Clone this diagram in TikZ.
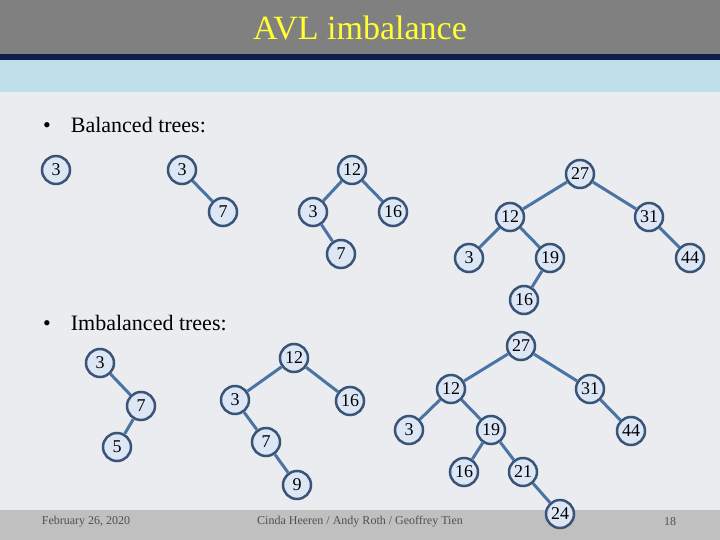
\documentclass[tikz,border=0pt]{standalone}
\usepackage{fontspec}
\setmainfont{Liberation Serif}
\definecolor{headgray}{HTML}{808080}
\definecolor{navyline}{HTML}{0E1F4D}
\definecolor{bandblue}{HTML}{BFE0EA}
\definecolor{bodygray}{HTML}{EAECF0}
\definecolor{footgray}{HTML}{C0C0C0}
\definecolor{nodefill}{HTML}{DCE6F4}
\definecolor{nodeline}{HTML}{3A5478}
\definecolor{edgeblue}{HTML}{4A74A4}
\definecolor{foottext}{HTML}{505050}
\definecolor{titleyellow}{HTML}{FFFF33}
\begin{document}
\begin{tikzpicture}[
    x=1pt, y=-1pt,
    avl/.style={circle, draw=nodeline, fill=nodefill, line width=2.5pt, minimum size=28pt, inner sep=0pt, font=\fontsize{18}{20}\selectfont},
    link/.style={draw=edgeblue, line width=3pt},
    bullet/.style={anchor=west, inner sep=0pt, font=\fontsize{22}{26}\selectfont},
    foot/.style={text=foottext, font=\fontsize{12}{14}\selectfont}
]
\useasboundingbox (0,0) rectangle (720,540);

% Slide background
\fill[bodygray] (0,0) rectangle (720,540);
\fill[headgray] (0,0) rectangle (720,54);
\fill[navyline] (0,54) rectangle (720,60);
\fill[bandblue] (0,60) rectangle (720,92);
\fill[footgray] (0,510) rectangle (720,540);

% Title
\node[text=titleyellow, font=\fontsize{34}{38}\selectfont] (title) at (360,28) {AVL imbalance};

% Bullets
\node[bullet] (bal) at (43,125) {\textbullet\hspace{20pt}Balanced trees:};
\node[bullet] (imb) at (43,323) {\textbullet\hspace{20pt}Imbalanced trees:};

% Footer
\node[foot] (date) at (86,522) {February 26, 2020};
\node[foot] (authors) at (360,522) {Cinda Heeren / Andy Roth / Geoffrey Tien};
\node[foot] (page) at (670,522) {18};

% Balanced trees
\node[avl] (a3) at (56,170) {3};

\node[avl] (b3) at (182,170) {3};
\node[avl] (b7) at (223,212) {7};

\node[avl] (c12) at (352,170) {12};
\node[avl] (c3) at (313,212) {3};
\node[avl] (c16) at (393,212) {16};
\node[avl] (c7) at (341,254) {7};

\node[avl] (d27) at (580,174) {27};
\node[avl] (d12) at (510,217) {12};
\node[avl] (d31) at (649,217) {31};
\node[avl] (d3) at (469,258) {3};
\node[avl] (d19) at (550,258) {19};
\node[avl] (d44) at (690,258) {44};
\node[avl] (d16) at (524,300) {16};

\draw[link] (b3) -- (b7);
\draw[link] (c12) -- (c3);
\draw[link] (c12) -- (c16);
\draw[link] (c3) -- (c7);
\draw[link] (d27) -- (d12);
\draw[link] (d27) -- (d31);
\draw[link] (d12) -- (d3);
\draw[link] (d12) -- (d19);
\draw[link] (d31) -- (d44);
\draw[link] (d19) -- (d16);

% Imbalanced trees
\node[avl] (e3) at (100,363) {3};
\node[avl] (e7) at (141,406) {7};
\node[avl] (e5) at (117,447) {5};

\node[avl] (f12) at (294,358) {12};
\node[avl] (f3) at (235,400) {3};
\node[avl] (f16) at (350,401) {16};
\node[avl] (f7) at (266,442) {7};
\node[avl] (f9) at (297,485) {9};

\node[avl] (g27) at (521,346) {27};
\node[avl] (g12) at (451,389) {12};
\node[avl] (g31) at (590,389) {31};
\node[avl] (g3) at (409,430) {3};
\node[avl] (g19) at (491,430) {19};
\node[avl] (g44) at (631,431) {44};
\node[avl] (g16) at (464,472) {16};
\node[avl] (g21) at (523,472) {21};
\node[avl] (g24) at (560,514) {24};

\draw[link] (e3) -- (e7);
\draw[link] (e7) -- (e5);
\draw[link] (f12) -- (f3);
\draw[link] (f12) -- (f16);
\draw[link] (f3) -- (f7);
\draw[link] (f7) -- (f9);
\draw[link] (g27) -- (g12);
\draw[link] (g27) -- (g31);
\draw[link] (g12) -- (g3);
\draw[link] (g12) -- (g19);
\draw[link] (g31) -- (g44);
\draw[link] (g19) -- (g16);
\draw[link] (g19) -- (g21);
\draw[link] (g21) -- (g24);

\end{tikzpicture}
\end{document}
